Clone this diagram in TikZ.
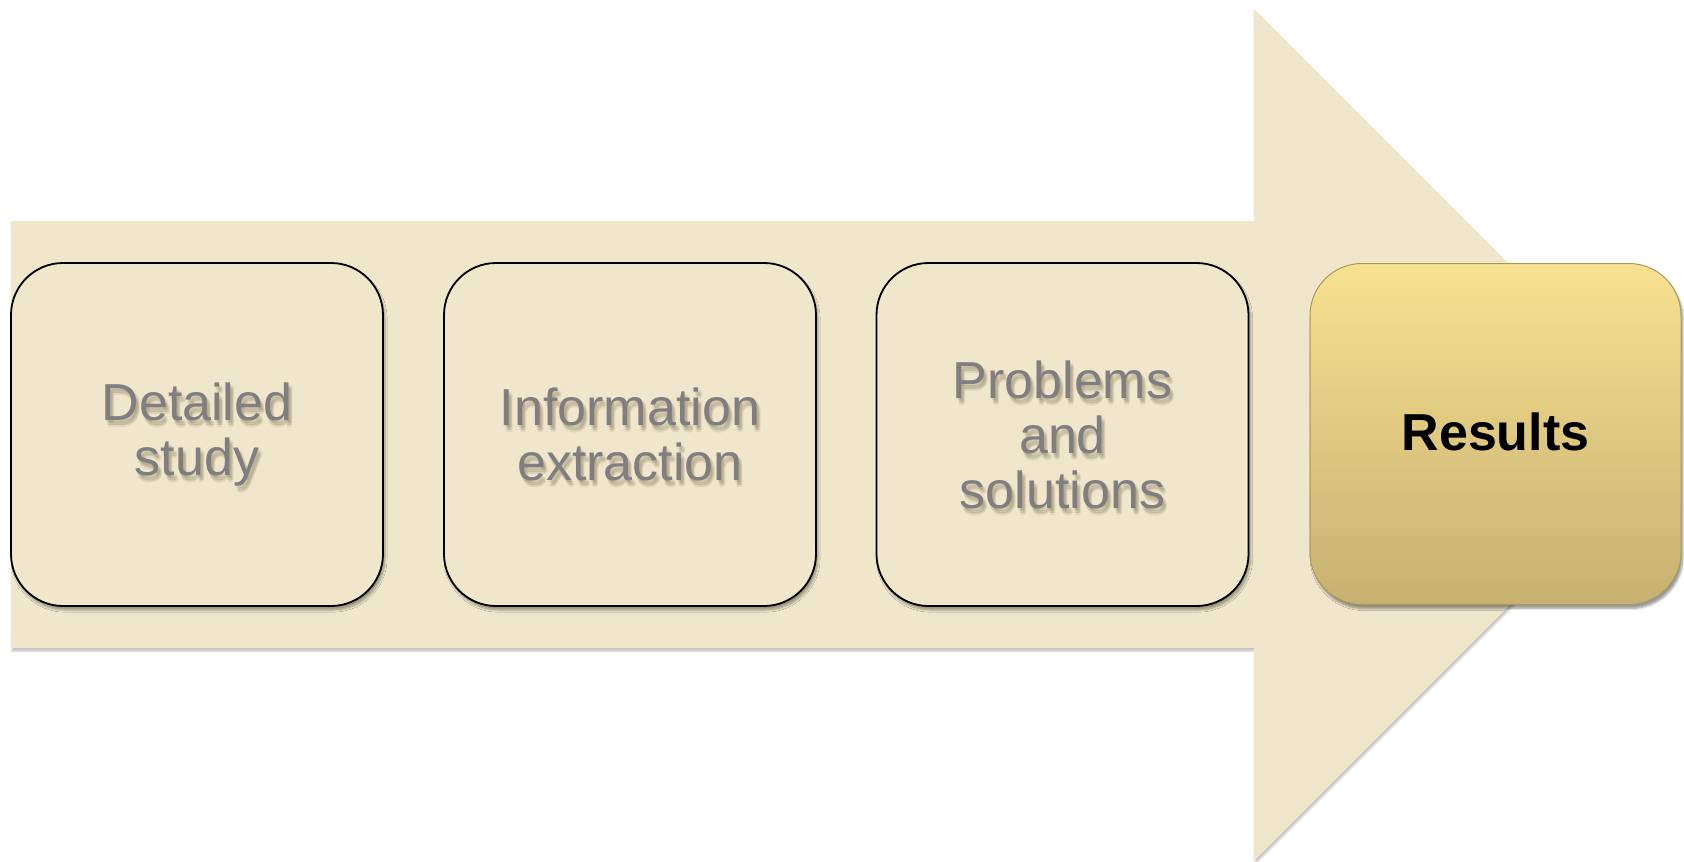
\documentclass[tikz,border=0pt]{standalone}
\usepackage{fontspec}
\setmainfont{Liberation Sans}
\usetikzlibrary{shadows.blur}
\definecolor{arrowfill}{HTML}{EFE6CB}
\definecolor{txtgray}{HTML}{7F7F7F}
\definecolor{txtshadow}{HTML}{7A6F52}
\definecolor{goldtop}{HTML}{F8E190}
\definecolor{goldbot}{HTML}{C6B171}
\definecolor{goldedge}{HTML}{A99A5C}
\tikzset{
  stepbox/.style={draw=black, line width=1.8pt, rounded corners=52pt, fill=arrowfill,
    minimum width=372pt, minimum height=343pt, inner sep=0pt,
    blur shadow={shadow xshift=2pt, shadow yshift=-4pt, shadow blur steps=6, shadow opacity=35}},
  resbox/.style={draw=goldedge, line width=1pt, rounded corners=52pt, top color=goldtop, bottom color=goldbot,
    minimum width=371pt, minimum height=341pt, inner sep=0pt,
    blur shadow={shadow xshift=2pt, shadow yshift=-4pt, shadow blur steps=6, shadow opacity=40}},
  steptext/.style={align=center, text=txtgray, font=\fontsize{52}{55}\selectfont},
  shadtext/.style={align=center, text=txtshadow, opacity=0.13, font=\fontsize{52}{55}\selectfont},
  restext/.style={align=center, text=black, font=\fontsize{52}{55}\selectfont\bfseries}
}
\begin{document}
\begin{tikzpicture}[x=1pt, y=-1pt]
\useasboundingbox (0,0) rectangle (1684,862);
% big arrow
\fill[arrowfill, blur shadow={shadow xshift=1pt, shadow yshift=-3pt, shadow blur steps=5, shadow opacity=25}]
  (11,221) -- (1254,221) -- (1254,9) -- (1680,435) -- (1254,861) -- (1254,648) -- (11,648) -- cycle;
% step boxes
\node[stepbox] (b1) at (197,434.5) {};
\node[stepbox] (b2) at (630,434.5) {};
\node[stepbox] (b3) at (1062.5,434.5) {};
\node[resbox] (b4) at (1495.5,434) {};
% soft text shadows
\foreach \dx/\dy [count=\k] in {1/2, 3/3, 2/5, 4/5, 3/7} {
  \node[shadtext] (t1s\k) at (197+\dx,434.5+\dy) {Detailed\\study};
  \node[shadtext] (t2s\k) at (630+\dx,434.5+\dy) {Information\\extraction};
  \node[shadtext] (t3s\k) at (1062.5+\dx,434.5+\dy) {Problems\\and\\solutions};
}
% labels
\node[steptext] (t1) at (197,434.5) {Detailed\\study};
\node[steptext] (t2) at (630,434.5) {Information\\extraction};
\node[steptext] (t3) at (1062.5,434.5) {Problems\\and\\solutions};
\node[restext] (t4) at (1495.5,432) {Results};
\end{tikzpicture}
\end{document}
